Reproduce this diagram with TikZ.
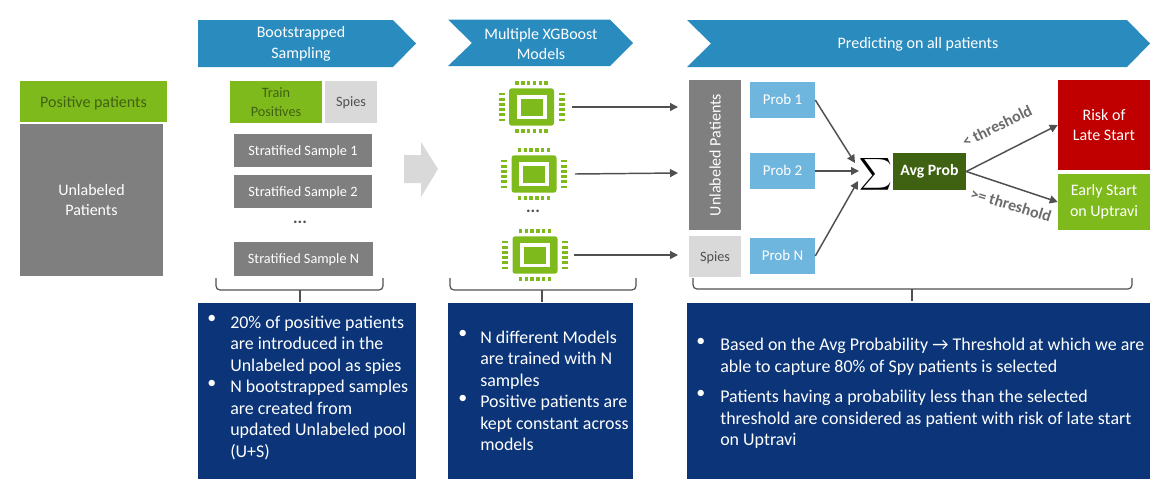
\documentclass[tikz,border=0pt]{standalone}
\usepackage{fontspec}
\setmainfont{Carlito}
\usetikzlibrary{arrows.meta,calc}
\definecolor{leaf}{HTML}{7FBA1C}
\definecolor{slate}{HTML}{7F7F7F}
\definecolor{pale}{HTML}{D9D9D9}
\definecolor{banner}{HTML}{2A8CBE}
\definecolor{navy}{HTML}{0B3578}
\definecolor{sky}{HTML}{6FB6DE}
\definecolor{moss}{HTML}{3F6212}
\definecolor{alarm}{HTML}{C00000}
\definecolor{wire}{HTML}{505050}
\tikzset{
  block/.style={inner sep=0pt, align=center, text=white, font=\fontsize{12}{15.5}\selectfont},
  small/.style={font=\fontsize{10.7}{14.5}\selectfont},
  lower/.style={text height=9pt, text depth=2pt},
  dims/.style 2 args={minimum width=#1*0.75pt, minimum height=#2*0.75pt},
  tag/.style={font=\fontsize{13}{15.5}\bfseries\selectfont, text=wire, inner sep=0pt},
  flow/.style={wire, line width=1.1pt, -{Triangle[length=6pt,width=6pt]}},
  bracket/.style={wire, line width=0.9pt, rounded corners=3pt},
  say/.style={anchor=north west, inner sep=0pt, align=left, text=white, font=\fontsize{13.45}{16.1}\selectfont},
  chip/.pic={
    \foreach \s in {-1,1} \foreach \k in {-2.5,-1.5,-0.5,0.5,1.5,2.5} {
      \fill[leaf] ({\k*5.8-1.7},{\s*24-2}) rectangle ++(3.4,4);
      \fill[leaf] ({\s*30-3},{\k*5.2-1.4}) rectangle ++(6,2.8);
    }
    \fill[leaf, rounded corners=2pt] (-22.5,-18.7) rectangle (22.5,18.7);
    \fill[white] (-15,-12) rectangle (15,12);
    \fill[leaf] (-11,-8.5) rectangle (11,8.5);
  },
}
\begin{document}
\begin{tikzpicture}[x=0.75pt,y=-0.75pt]
\useasboundingbox (0,0) rectangle (1172,494);
% headers
\fill[banner] (198,20) -- (393,20) -- (416,43.5) -- (393,67) -- (198,67) -- cycle;
\fill[banner] (448,19.5) -- (610,19.5) -- (633,43) -- (610,66) -- (448,66) -- (472,43) -- cycle;
\fill[banner] (687,20) -- (1127,20) -- (1150,43.5) -- (1127,67) -- (687,67) -- (711,43.5) -- cycle;
\node[block] (headA) at (301,44) {Bootstrapped\\Sampling};
\node[block] (headB) at (541,44) {Multiple XGBoost\\Models};
\node[block] (headC) at (918,44) {Predicting on all patients};

% left column
\node[block, fill=leaf, text=moss, text depth=0pt, dims={147}{41}] (pos) at (93.5,101.5) {Positive patients};
\node[block, fill=slate, dims={143}{152}] (unl) at (91.5,200) {Unlabeled\\Patients};

% sampling
\node[block, fill=leaf, text=moss, small, dims={92}{42}] (train) at (276,102) {Train\\Positives};
\node[block, fill=pale, text=wire, small, lower, dims={52}{42}] (spyA) at (351,102) {Spies};
\node[block, fill=slate, small, lower, dims={138}{33}] (strat1) at (303,150.5) {Stratified Sample 1};
\node[block, fill=slate, small, lower, dims={138}{33}] (strat2) at (303,191.5) {Stratified Sample 2};
\node[tag] (dotsA) at (300,222) {...};
\node[block, fill=slate, small, lower, dims={139}{34}] (stratN) at (303.5,259) {Stratified Sample N};

% big arrow
\fill[pale] (404,155) -- (421,155) -- (421,142) -- (438,169) -- (421,197) -- (421,183) -- (404,183) -- cycle;

% models
\path (531.5,107) pic {chip} (534,174) pic {chip} (535,255) pic {chip};
\node[tag] (dotsB) at (533,211) {...};
\coordinate (m1) at (572,107);
\coordinate (m2) at (575,174);
\coordinate (m3) at (574,255);
\coordinate (t1) at (678,107);
\coordinate (t2) at (678,173);
\coordinate (t3) at (678,255);
\draw[flow] (m1) -- (t1);
\draw[flow] (m2) -- (t2);
\draw[flow] (m3) -- (t3);

% predicting
\node[block, fill=slate, rotate=90, dims={150}{52}] (unlB) at (715,155) {Unlabeled Patients};
\node[block, fill=pale, text=wire, small, lower, dims={52}{41}] (spyB) at (715,256.5) {Spies};
\node[block, fill=sky, font=\fontsize{11.2}{14.5}\selectfont, lower, dims={65}{36}] (prob1) at (782.5,100) {Prob 1};
\node[block, fill=sky, font=\fontsize{11.2}{14.5}\selectfont, lower, dims={65}{36}] (prob2) at (782.5,171) {Prob 2};
\node[block, fill=sky, font=\fontsize{11.2}{14.5}\selectfont, lower, dims={65}{36}] (probN) at (782.5,256) {Prob N};
\node[inner sep=0pt, scale=1.7] (sum) at (875.5,174.5) {$\displaystyle\sum$};
\node[block, fill=moss, font=\fontsize{11.8}{15}\bfseries\selectfont, dims={73}{37}] (avg) at (929.5,171.5) {Avg Prob};
\node[block, fill=alarm, dims={92}{90}] (late) at (1104,125) {Risk of\\Late Start};
\node[block, fill=leaf, dims={92}{56}] (early) at (1104,202) {Early Start\\on Uptravi};
\coordinate (s1) at (855,163);
\coordinate (s2) at (859,171);
\coordinate (s3) at (858,181);
\draw[flow] (prob1.east) -- (s1);
\draw[flow] (prob2.east) -- (s2);
\draw[flow] (probN.east) -- (s3);
\draw[flow] (avg.east) -- (late.west);
\draw[flow] (avg.east) -- (early.west);
\node[tag, font=\fontsize{12}{13}\bfseries\selectfont, text=slate!85!black, rotate=26] (lo) at (997,126) {< threshold};
\node[tag, font=\fontsize{12}{13}\bfseries\selectfont, text=slate!85!black, rotate=-17] (hi) at (1011,205) {>= threshold};

% brackets
\draw[bracket] (216,278) |- (300,290) -| (383,278);
\draw[bracket] (300,290) -- (300,302);
\draw[bracket] (450,278) |- (542,290) -| (636,278);
\draw[bracket] (542,290) -- (542,302);
\draw[bracket] (693,278) |- (912,289) -| (1132,278);
\draw[bracket] (912,289) -- (912,301);

% notes
\node[fill=navy, dims={218}{176}, inner sep=0pt] (noteA) at (307,391) {};
\node[fill=navy, dims={185}{176}, inner sep=0pt] (noteB) at (540.5,391) {};
\node[fill=navy, dims={463}{176}, inner sep=0pt] (noteC) at (918.5,391) {};
\node[say] (a0) at (207,315.5) {•};
\node[say] (a1) at (230,315.5) {20\% of positive patients\\are introduced in the\\Unlabeled pool as spies};
\node[say] (a2) at (207,380) {•};
\node[say] (a3) at (230,380) {N bootstrapped samples\\are created from\\updated Unlabeled pool\\(U+S)};
\node[say] (b0) at (458,330.5) {•};
\node[say] (b1) at (480,330.5) {N different Models\\are trained with N\\samples};
\node[say] (b2) at (458,395) {•};
\node[say] (b3) at (480,395) {Positive patients are\\kept constant across\\models};
\node[say] (c0) at (696,338) {•};
\node[say] (c1) at (720,338) {Based on the Avg Probability \textrightarrow{} Threshold at which we are\\able to capture 80\% of Spy patients is selected};
\node[say] (c2) at (696,390) {•};
\node[say] (c3) at (720,390) {Patients having a probability less than the selected\\threshold are considered as patient with risk of late start\\on Uptravi};
\end{tikzpicture}
\end{document}
